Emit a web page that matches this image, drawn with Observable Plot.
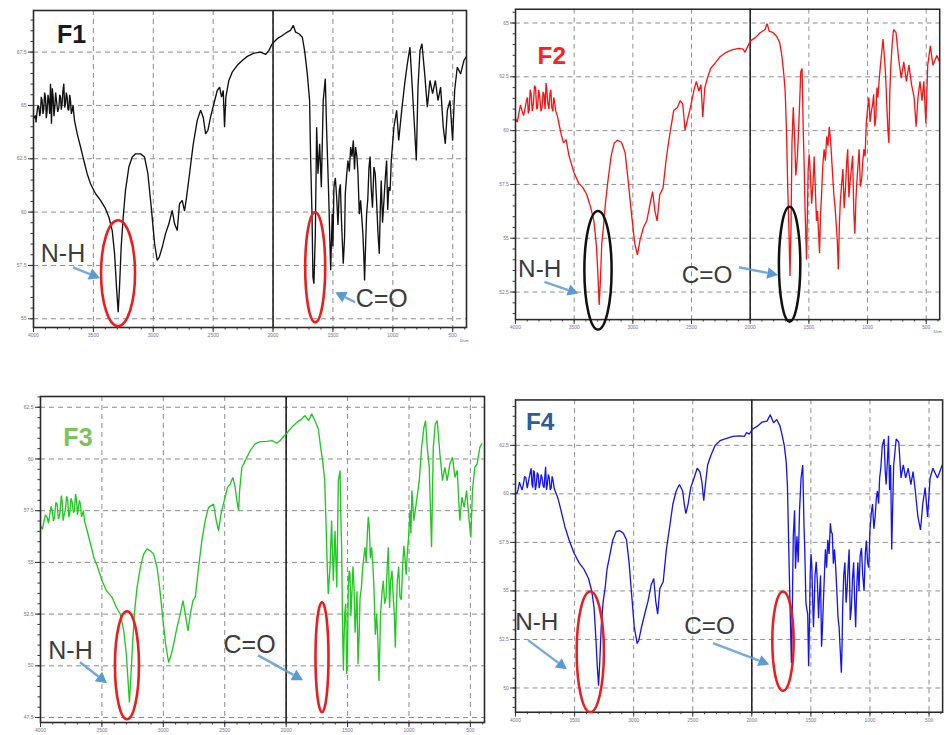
<!DOCTYPE html>
<html>
<head>
<meta charset="utf-8">
<script src="https://cdn.jsdelivr.net/npm/d3@7"></script>
<script src="https://cdn.jsdelivr.net/npm/@observablehq/plot@0.6"></script>
<style>
  html, body { margin: 0; padding: 0; background: #fff; overflow: hidden; width: 947px; height: 735px; }
  .panel { position: absolute; }
</style>
</head>
<body>
<div id="p1" class="panel" style="left:0;top:0"></div>
<div id="p2" class="panel" style="left:480px;top:0"></div>
<div id="p3" class="panel" style="left:0;top:380px"></div>
<div id="p4" class="panel" style="left:480px;top:380px"></div>
<script>
// FTIR spectra of four films (wavenumber in cm-1, transmittance in %)
const wavenumberTicks = [4000, 3500, 3000, 2500, 2000, 1500, 1000, 500];
const sampleNames = ["F1", "F2", "F3", "F4"];
const bandNames = ["N-H", "C=O"];

const f1Ticks = [55, 57.5, 60, 62.5, 65, 67.5];
const f2Ticks = [52.5, 55, 57.5, 60, 62.5, 65];
const f3Ticks = [47.5, 50, 52.5, 55, 57.5, 60, 62.5];
const f4Ticks = [50, 52.5, 55, 57.5, 60, 62.5];

// Main outline of each spectrum: [wavenumber, transmittance]
const f1Spectrum = [
  [4000,64.38],[3983,64.53],[3969,64.77],[3955,64.92],[3942,64.69],[3928,65.23],[3914,64.84],[3900,65.39],
  [3886,64.77],[3872,65.23],[3858,66.02],[3850,64.14],[3836,65.39],[3822,64.92],[3808,65.23],[3788,64.92],
  [3774,65.39],[3761,65.08],[3747,66.02],[3733,65.08],[3719,65.39],[3705,64.77],[3691,65.23],[3677,64.77],
  [3658,64.30],[3635,63.67],[3607,63.05],[3580,62.42],[3552,61.80],[3524,61.33],[3482,60.86],[3440,60.55],
  [3399,60.16],[3371,59.77],[3343,59.14],[3323,58.05],[3307,56.48],[3293,55.31],[3282,56.48],[3268,58.36],
  [3251,59.77],[3232,61.02],[3204,62.11],[3176,62.58],[3148,62.73],[3106,62.73],[3073,62.58],[3045,61.80],
  [3017,60.23],[2989,58.52],[2967,57.73],[2950,57.89],[2925,58.36],[2898,58.98],[2870,59.45],[2842,60.08],
  [2822,59.45],[2800,59.14],[2781,60.39],[2758,60.55],[2739,60.05],[2722,60.70],[2694,61.95],[2666,63.20],
  [2633,64.30],[2605,64.77],[2583,64.45],[2563,63.67],[2544,63.83],[2522,64.45],[2494,65.08],[2466,65.70],
  [2446,65.86],[2430,65.39],[2416,65.70],[2405,63.98],[2394,65.39],[2369,66.17],[2341,66.56],[2299,66.88],
  [2257,67.11],[2215,67.30],[2160,67.45],[2104,67.50],[2062,67.39],[2034,67.58],[2007,67.89],[1965,68.13],
  [1923,68.28],[1881,68.44],[1854,68.52],[1831,68.75],[1812,68.44],[1784,68.36],[1756,68.20],[1737,67.58],
  [1714,66.48],[1695,65.23],[1686,62.42],[1675,59.92],[1667,56.95],[1659,56.64],[1647,58.98],[1636,63.98],
  [1625,61.80],[1611,63.20],[1597,61.17],[1581,65.23],[1564,66.25],[1553,63.89],[1536,60.86],[1519,57.27],
  [1506,59.92],[1492,61.17],[1469,60.70],[1447,61.02],[1430,59.77],[1414,57.58],[1397,60.86],[1375,62.42],
  [1352,63.05],[1330,63.36],[1311,63.05],[1291,61.80],[1269,60.55],[1250,58.98],[1236,56.80],[1219,59.92],
  [1199,62.11],[1181,61.17],[1158,62.11],[1136,60.55],[1113,58.05],[1097,61.48],[1074,60.55],[1052,62.42],
  [1033,61.17],[1013,62.42],[991,63.98],[968,64.77],[951,63.36],[926,64.77],[901,66.02],[879,66.95],
  [857,67.73],[838,65.86],[819,63.98],[804,62.42],[790,65.86],[773,67.58],[757,67.89],[734,66.48],
  [712,64.92],[690,66.17],[668,65.55],[645,66.17],[623,65.23],[601,65.86],[579,63.98],[562,63.20],
  [545,64.77],[523,65.23],[501,63.36],[484,65.70],[462,66.80],[434,66.48],[406,67.11],[389,67.27]
];
// Fine structure in the noisy stretches
const f1Detail = [
  [3979,64.2],[3962,65.0],[3948,64.5],[3935,65.4],[3921,64.6],[3907,65.6],[3893,64.4],[3879,65.5],
  [3865,64.6],[3843,65.8],[3829,64.5],[3815,65.6],[3798,64.7],[3781,65.5],[3768,64.8],[3754,65.7],
  [3740,64.9],[3726,65.6],[3712,64.8],[3698,65.5],[3684,64.6],[3670,65.0],
  [1500,58.4],[1480,61.6],[1458,59.4],[1438,61.3],[1403,58.8],[1386,61.7],[1363,61.9],[1341,62.6],
  [1320,62.0],[1300,62.6],[1280,59.9],[1242,57.9],[1227,58.5],[1209,60.6],[1190,62.6],[1170,60.2],
  [1147,61.8],[1124,59.0],[1105,60.1],[1086,59.5],[1063,61.6],[1043,60.1],[1023,61.0]
];

const f2Spectrum = [
  [4000,60.56],[3972,60.78],[3945,60.93],[3917,61.08],[3898,61.54],[3884,60.93],[3867,61.69],[3848,61.24],
  [3829,61.99],[3812,61.08],[3793,61.54],[3774,61.08],[3757,61.69],[3740,62.21],[3724,61.24],[3707,61.69],
  [3691,61.08],[3674,61.54],[3658,60.93],[3641,60.63],[3613,59.88],[3591,59.43],[3569,59.58],[3544,58.83],
  [3503,58.07],[3461,57.55],[3426,57.35],[3392,57.02],[3359,56.42],[3332,55.81],[3310,54.61],[3296,53.10],
  [3287,51.90],[3276,53.10],[3265,54.76],[3251,55.51],[3232,56.72],[3210,57.77],[3185,58.83],[3158,59.43],
  [3130,59.55],[3097,59.46],[3066,58.98],[3039,57.62],[3011,56.11],[2984,54.76],[2961,54.23],[2939,54.91],
  [2909,55.51],[2881,55.81],[2854,56.57],[2832,57.17],[2812,56.27],[2793,55.81],[2771,57.02],[2743,57.32],
  [2716,58.67],[2688,59.73],[2652,60.93],[2619,61.08],[2597,61.39],[2575,61.24],[2555,60.03],[2536,60.48],
  [2509,61.08],[2481,61.84],[2459,62.29],[2437,61.84],[2420,62.14],[2404,60.63],[2387,61.99],[2365,62.44],
  [2337,62.89],[2301,63.12],[2260,63.42],[2205,63.64],[2149,63.76],[2094,63.82],[2061,63.79],[2044,63.64],
  [2025,63.87],[1998,64.17],[1956,64.32],[1915,64.55],[1873,64.70],[1857,64.97],[1837,64.62],[1804,64.55],
  [1777,64.40],[1749,64.10],[1730,63.49],[1713,62.59],[1702,61.84],[1691,60.03],[1680,57.32],[1669,55.21],
  [1661,53.25],[1652,55.51],[1644,59.43],[1633,61.08],[1622,59.73],[1611,57.92],[1597,58.83],[1583,60.63],
  [1569,62.74],[1558,62.89],[1548,60.03],[1533,56.42],[1520,54.01],[1506,58.22],[1487,57.92],[1464,57.62],
  [1445,57.32],[1426,56.27],[1409,54.31],[1392,57.02],[1370,59.13],[1348,59.73],[1326,60.18],[1307,58.83],
  [1287,57.02],[1265,55.51],[1249,53.55],[1232,56.72],[1210,58.22],[1188,57.32],[1169,59.13],[1149,57.62],
  [1127,58.83],[1108,55.21],[1091,57.62],[1072,59.13],[1050,57.77],[1031,59.13],[1011,60.33],[989,61.54],
  [967,60.93],[948,61.69],[929,60.63],[912,61.54],[890,63.04],[868,64.25],[851,63.04],[835,61.08],
  [818,59.43],[801,63.04],[779,64.70],[757,64.55],[735,63.34],[713,62.44],[691,63.19],[669,62.29],
  [647,63.04],[625,62.14],[603,61.54],[586,60.18],[570,61.54],[553,62.29],[536,61.39],[520,62.29],
  [503,60.33],[487,63.04],[465,63.94],[443,63.04],[409,63.49],[387,63.20]
];
const f2Detail = [
  [3985,60.4],[3958,61.2],[3931,60.7],[3907,61.4],[3891,60.8],[3875,61.9],[3857,60.9],[3838,62.1],
  [3820,61.0],[3802,61.9],[3783,60.9],[3765,61.8],[3748,61.0],[3732,61.8],[3715,61.0],[3699,61.9],
  [3682,60.9],[3666,61.3],
  [1540,58.4],[1513,56.0],[1497,58.9],[1476,56.6],[1455,58.8],[1435,55.8],[1400,56.2],[1381,58.4],
  [1359,58.6],[1337,59.3],[1316,59.6],[1297,57.9],[1276,56.4],[1257,54.8],[1240,55.6],[1221,57.5],
  [1199,56.4],[1178,58.5],[1159,56.9],[1138,58.2],[1117,56.2],[1099,56.8],[1081,58.4],[1061,57.4],
  [1040,58.6],[1021,58.8],[1000,61.0],[978,60.4],[957,61.2],[938,60.2],[920,62.0],[900,62.4],
  [843,62.2],[826,60.0],[810,61.8],[790,64.0]
];

const f3Spectrum = [
  [4000,56.77],[3973,56.94],[3946,57.18],[3924,57.34],[3905,57.50],[3886,57.18],[3865,57.82],[3843,57.34],
  [3830,58.23],[3816,57.02],[3797,57.58],[3778,57.98],[3762,57.34],[3742,57.90],[3723,57.50],[3707,58.06],
  [3691,57.66],[3675,57.82],[3658,57.34],[3642,57.02],[3620,56.53],[3593,55.89],[3566,55.24],[3534,54.76],
  [3499,54.11],[3463,53.63],[3417,53.31],[3382,52.82],[3350,52.50],[3322,51.69],[3301,50.56],[3287,49.27],
  [3276,48.23],[3263,49.60],[3252,50.89],[3236,52.50],[3214,53.79],[3187,54.76],[3160,55.40],[3133,55.65],
  [3106,55.56],[3079,55.40],[3051,54.76],[3030,53.79],[3005,52.34],[2981,51.05],[2957,50.16],[2935,50.56],
  [2916,51.05],[2889,51.85],[2862,52.50],[2840,53.15],[2821,52.50],[2799,51.69],[2780,52.50],[2759,53.15],
  [2740,53.31],[2713,54.76],[2686,56.05],[2659,57.02],[2632,57.66],[2591,57.82],[2569,57.02],[2550,56.53],
  [2531,57.34],[2504,57.98],[2477,58.63],[2455,58.79],[2434,59.11],[2415,58.63],[2401,57.98],[2387,57.50],
  [2379,58.47],[2360,59.60],[2333,59.92],[2293,60.40],[2252,60.73],[2211,60.84],[2157,60.85],[2116,60.89],
  [2076,60.76],[2049,60.89],[2027,61.05],[2000,61.21],[1954,61.53],[1913,61.77],[1873,61.94],[1846,62.10],
  [1818,61.85],[1792,62.18],[1765,61.85],[1738,61.45],[1719,60.56],[1703,59.92],[1686,58.95],[1676,57.02],
  [1665,54.76],[1657,53.47],[1643,54.76],[1630,57.02],[1616,54.11],[1602,56.53],[1588,53.79],[1575,58.95],
  [1561,59.44],[1548,55.73],[1534,49.76],[1523,52.50],[1507,49.60],[1494,53.79],[1480,54.44],[1466,53.31],
  [1447,53.79],[1431,52.50],[1415,50.08],[1398,53.31],[1377,54.76],[1358,55.73],[1339,56.37],[1323,56.69],
  [1304,55.73],[1285,53.79],[1263,52.50],[1244,49.27],[1231,52.50],[1209,54.11],[1187,53.31],[1168,55.73],
  [1149,54.11],[1128,53.31],[1111,50.89],[1095,54.11],[1073,53.31],[1052,54.76],[1033,55.24],[1014,55.40],
  [992,57.50],[976,58.47],[960,57.02],[938,57.98],[916,58.95],[897,60.56],[878,61.53],[865,61.85],
  [851,60.56],[835,59.60],[816,55.73],[802,60.56],[786,61.69],[770,61.85],[748,60.24],[727,58.95],
  [708,59.60],[689,58.95],[667,59.76],[645,60.08],[626,59.11],[607,59.44],[586,57.02],[569,58.15],
  [550,57.66],[531,58.47],[510,57.02],[496,56.21],[483,58.47],[464,59.60],[445,59.76],[423,60.56],[407,60.73]
];
const f3Detail = [
  [3985,56.6],[3960,57.3],[3935,56.9],[3914,57.7],[3895,57.0],[3875,57.9],[3854,57.1],[3823,57.9],
  [3807,57.3],[3787,58.2],[3770,57.2],[3752,58.1],[3732,57.4],[3715,58.3],[3699,57.3],[3683,58.0],
  [3666,57.2],[3650,57.5],
  [1554,57.0],[1541,52.0],[1528,51.4],[1515,53.0],[1500,50.6],[1487,54.6],[1473,52.4],[1456,54.8],
  [1439,51.6],[1423,53.6],[1406,51.4],[1387,53.8],[1368,55.2],[1348,55.0],[1331,57.2],[1314,55.2],
  [1294,54.9],[1274,51.5],[1253,51.2],[1237,51.0],[1220,53.5],[1198,53.0],[1177,54.8],[1158,52.8],
  [1138,54.6],[1119,52.5],[1103,52.8],[1084,54.8],[1062,53.2],[1042,55.8],[1023,54.4],[1003,56.2],[984,56.4]
];

const f4Spectrum = [
  [4000,60.07],[3978,60.23],[3956,60.40],[3934,60.48],[3912,60.82],[3890,60.65],[3868,61.32],[3854,60.32],
  [3841,61.15],[3824,60.48],[3808,60.99],[3791,60.57],[3775,60.82],[3758,60.32],[3745,61.40],[3731,60.48],
  [3714,60.82],[3698,60.32],[3681,60.65],[3665,60.15],[3643,59.82],[3615,59.15],[3582,58.31],[3547,57.64],
  [3506,56.97],[3464,56.47],[3423,56.14],[3382,55.64],[3354,54.97],[3335,54.13],[3319,52.46],[3308,51.12],
  [3297,50.12],[3286,51.45],[3275,53.13],[3258,54.46],[3242,55.13],[3225,56.14],[3203,56.81],[3176,57.64],
  [3148,58.06],[3121,58.11],[3088,57.98],[3061,57.64],[3039,56.47],[3017,54.80],[2995,53.13],[2970,52.29],
  [2956,52.46],[2934,53.13],[2907,53.80],[2879,54.46],[2852,55.30],[2830,55.64],[2813,54.46],[2797,53.80],
  [2778,55.13],[2750,55.47],[2723,57.14],[2695,58.31],[2668,59.48],[2640,60.15],[2613,60.48],[2585,60.15],
  [2572,59.48],[2558,58.98],[2539,59.48],[2517,60.32],[2489,60.82],[2462,61.32],[2440,61.15],[2423,60.65],
  [2407,59.65],[2393,60.48],[2374,61.49],[2346,61.99],[2311,62.49],[2269,62.74],[2214,62.86],[2160,62.96],
  [2105,62.99],[2063,62.96],[2044,63.16],[2022,63.08],[1995,63.33],[1953,63.49],[1912,63.70],[1871,63.75],
  [1844,64.08],[1816,63.66],[1789,63.83],[1761,63.49],[1742,62.99],[1725,62.49],[1709,61.66],[1698,60.32],
  [1687,57.14],[1676,54.13],[1665,51.29],[1657,54.13],[1649,57.81],[1638,59.15],[1630,56.14],[1618,57.81],
  [1607,56.47],[1596,59.15],[1583,60.82],[1569,61.49],[1558,58.31],[1547,55.80],[1536,54.13],[1519,51.12],
  [1506,55.80],[1492,56.30],[1478,53.13],[1465,55.80],[1445,55.47],[1426,54.97],[1410,52.12],[1396,54.13],
  [1377,57.14],[1357,57.64],[1335,58.48],[1319,57.98],[1300,57.14],[1280,54.97],[1261,53.13],[1242,50.79],
  [1231,54.13],[1212,56.47],[1193,55.13],[1176,57.14],[1157,54.13],[1138,56.47],[1121,53.13],[1102,56.47],
  [1083,56.81],[1061,55.80],[1039,56.97],[1020,56.47],[1000,58.14],[978,59.48],[956,58.81],[937,60.15],
  [918,60.82],[896,62.49],[880,62.83],[863,60.48],[843,62.99],[825,61.49],[816,57.14],[799,61.49],
  [778,62.83],[756,62.66],[737,60.82],[718,61.49],[698,60.82],[676,61.32],[654,60.48],[635,61.15],
  [616,60.15],[594,58.81],[572,58.14],[553,59.48],[533,60.32],[512,58.81],[491,60.82],[467,61.32],
  [429,60.82],[388,61.49]
];
const f4Detail = [
  [3989,60.0],[3967,60.6],[3945,60.2],[3923,60.9],[3901,60.3],[3879,61.0],[3861,60.5],[3848,61.2],
  [3832,60.2],[3816,61.1],[3800,60.3],[3783,61.0],[3766,60.4],[3752,60.9],[3738,60.2],[3722,61.0],
  [3706,60.2],[3690,60.9],[3673,60.3],
  [1552,57.2],[1542,54.4],[1527,53.8],[1512,53.4],[1499,56.9],[1485,54.5],[1472,54.2],[1455,56.5],
  [1435,53.6],[1418,55.8],[1403,52.9],[1387,55.6],[1367,56.2],[1346,56.9],[1327,58.0],[1310,56.4],
  [1290,56.2],[1270,53.6],[1252,52.0],[1236,52.2],[1222,55.8],[1202,54.4],[1185,56.2],[1167,53.5],
  [1148,55.6],[1130,54.6],[1112,55.2],[1093,55.0],[1072,57.2],[1050,55.0],[1030,57.6],[1010,56.2],
  [989,59.0],[967,58.2],[946,59.8],[927,59.5],[907,61.4],[871,61.2],[853,61.6],[834,60.2]
];

// Panel geometry and styling
const panels = [
  { id: "p1", name: sampleNames[0], spectrum: f1Spectrum.concat(f1Detail), ticks: f1Ticks, yDomain: [54.59, 69.45],
    width: 480, height: 345, margins: [10, 14, 18, 33], line: "#111111", title: "#1a1a1a", ring: "#ee1c1c",
    titleAt: [3683, 68.28], bandAt: [[3754, 58.05], [1093, 55.94]],
    rings: [[3290, 57.11, 17, 53], [1644, 57.39, 10, 55]],
    arrows: [[[3666, 57.39], [3440, 56.88]], [[1310, 55.75], [1477, 56.22]]], unit: true },
  { id: "p2", name: sampleNames[1], spectrum: f2Spectrum.concat(f2Detail), ticks: f2Ticks, yDomain: [51.22, 65.64],
    width: 480, height: 345, margins: [9, 8, 17, 36], line: "#ff1010", title: "#ff2020", ring: "#111111",
    titleAt: [3691, 63.48], bandAt: [[3794, 53.54], [2368, 53.29]],
    rings: [[3293, 53.49, 14, 61], [1660, 53.77, 11, 59]],
    arrows: [[[3749, 52.95], [3459, 52.41]], [[2091, 53.63], [1759, 53.27]]], unit: true },
  { id: "p3", name: sampleNames[2], spectrum: f3Spectrum.concat(f3Detail), ticks: f3Ticks, yDomain: [47.26, 63.02],
    width: 490, height: 355, margins: [16, 6, 13, 40], line: "#22c822", title: "#7cc35a", ring: "#ee1c1c",
    titleAt: [3695, 61.03], bandAt: [[3756, 50.73], [2298, 51.02]],
    rings: [[3292, 50.0, 12, 54], [1704, 50.39, 6.5, 55]],
    arrows: [[[3674, 50.15], [3454, 49.13]], [[2225, 50.48], [1858, 49.28]]], unit: false },
  { id: "p4", name: sampleNames[3], spectrum: f4Spectrum.concat(f4Detail), ticks: f4Ticks, yDomain: [48.75, 64.84],
    width: 480, height: 355, margins: [20, 5, 14, 36], line: "#1414f0", title: "#2e5c9a", ring: "#ee1c1c",
    titleAt: [3792, 63.71], bandAt: [[3820, 53.40], [2358, 53.20]],
    rings: [[3363, 51.84, 14, 62], [1732, 52.39, 11, 51]],
    arrows: [[[3890, 52.44], [3561, 50.94]], [[2325, 52.29], [1848, 51.19]]], unit: false }
];

const arrowColor = "#5b9bd5";

// Draws the highlight rings and pointer arrows in data coordinates
function highlights(p) {
  return (index, scales) => {
    const x = scales.x, y = scales.y;
    const g = d3.create("svg:g");
    for (const [wn, t, rx, ry] of p.rings) {
      g.append("ellipse")
        .attr("cx", x(wn)).attr("cy", y(t)).attr("rx", rx).attr("ry", ry)
        .attr("fill", "none").attr("stroke", p.ring).attr("stroke-width", 2.6);
    }
    for (const [from, to] of p.arrows) {
      const x1 = x(from[0]), y1 = y(from[1]), x2 = x(to[0]), y2 = y(to[1]);
      const a = Math.atan2(y2 - y1, x2 - x1), L = 11, W = 6;
      const bx = x2 - L * Math.cos(a), by = y2 - L * Math.sin(a);
      g.append("line").attr("x1", x1).attr("y1", y1).attr("x2", bx).attr("y2", by)
        .attr("stroke", arrowColor).attr("stroke-width", 2.4).attr("stroke-opacity", 0.85);
      g.append("path")
        .attr("d", `M${x2},${y2}L${bx + W * Math.sin(a)},${by - W * Math.cos(a)}L${bx - W * Math.sin(a)},${by + W * Math.cos(a)}Z`)
        .attr("fill", arrowColor);
    }
    return g.node();
  };
}

for (const p of panels) {
  const data = p.spectrum.map(([wn, t]) => ({ wn, t })).sort((a, b) => b.wn - a.wn);
  const [mt, mr, mb, ml] = p.margins;
  const minorX = d3.range(4000, 380, -100);
  const minorY = d3.range(Math.ceil(p.yDomain[0] * 2) / 2, p.yDomain[1], 0.5);
  const bands = bandNames.map((text, i) => ({ text, wn: p.bandAt[i][0], t: p.bandAt[i][1] }));
  const marks = [
    Plot.gridX(wavenumberTicks, { stroke: "#8c8c8c", strokeOpacity: 1, strokeWidth: 1, strokeDasharray: "5,4" }),
    Plot.gridY(p.ticks, { stroke: "#8c8c8c", strokeOpacity: 1, strokeWidth: 1, strokeDasharray: "5,4" }),
    Plot.ruleX([2000], { stroke: "#222", strokeWidth: 1.6 }),
    Plot.line(data, { x: "wn", y: "t", stroke: p.line, strokeWidth: 1.35, strokeLinejoin: "miter" }),
    Plot.frame({ stroke: "#2a2a2a", strokeWidth: 1.6 }),
    Plot.axisX(minorX, { tickSize: 2.5, tickFormat: () => "", label: null, stroke: "#333" }),
    Plot.axisX(wavenumberTicks, { tickSize: 5, tickPadding: 1, fontSize: 5, fill: "#7a7090", stroke: "#333",
      label: null, tickFormat: d => String(d) }),
    Plot.axisY(minorY, { tickSize: 2.5, tickFormat: () => "", label: null, stroke: "#333" }),
    Plot.axisY(p.ticks, { tickSize: 5, tickPadding: 2, fontSize: 5, fill: "#7a7090", stroke: "#333",
      label: null, tickFormat: d => String(d) }),
    Plot.text([p.name], { x: () => p.titleAt[0], y: () => p.titleAt[1], text: d => d, fill: p.title,
      fontSize: 25, fontWeight: "bold", fontFamily: "Liberation Sans" }),
    Plot.text(bands, { x: "wn", y: "t", text: "text", fill: "#3c3c3c", fontSize: 25, fontFamily: "Liberation Sans" }),
    highlights(p)
  ];
  if (p.unit) {
    marks.push(Plot.text(["1/cm"], { frameAnchor: "bottom-right", text: d => d, dy: 14, dx: 2, fontSize: 4, fill: "#555" }));
  }
  const chart = Plot.plot({
    width: p.width, height: p.height,
    marginTop: mt, marginRight: mr, marginBottom: mb, marginLeft: ml,
    style: { background: "transparent", fontFamily: "Liberation Sans", overflow: "visible" },
    x: { domain: [4000, 385] },
    y: { domain: p.yDomain },
    marks
  });
  document.getElementById(p.id).appendChild(chart);
}
</script>
</body>
</html>
